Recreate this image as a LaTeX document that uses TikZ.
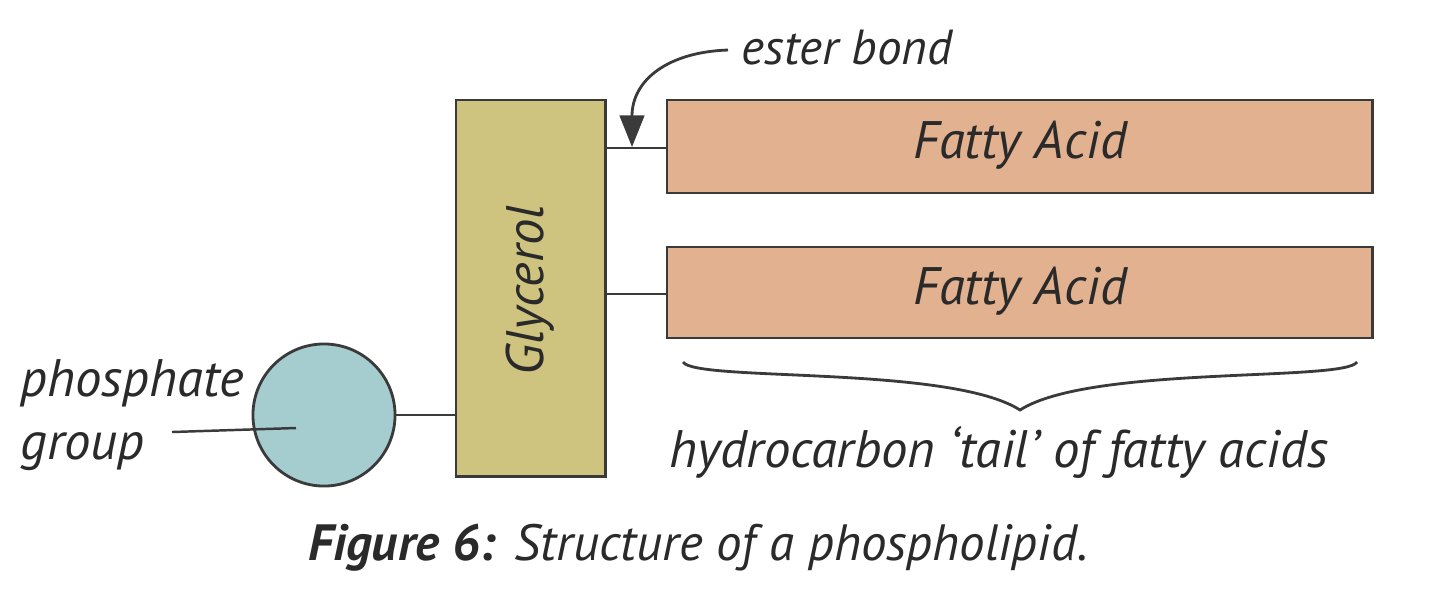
\documentclass[tikz,border=0pt]{standalone}
\usepackage{fontspec}
\setmainfont{PT Sans}
\usetikzlibrary{arrows.meta}
\definecolor{glyc}{HTML}{CEC47F}
\definecolor{fatty}{HTML}{E2B18F}
\definecolor{phos}{HTML}{A5CDD0}
\definecolor{edge}{HTML}{3A3A3A}
\definecolor{txt}{HTML}{2A2A2A}
\tikzset{
  box/.style={draw=edge, line width=0.8pt, inner sep=0pt, outer sep=0pt},
  lbl/.style={text=txt, font=\itshape\fontsize{15}{18}\selectfont, inner sep=0pt},
  bond/.style={draw=edge, line width=0.7pt},
}
\begin{document}
\begin{tikzpicture}[x=0.01cm, y=-0.01cm]
\useasboundingbox (0,0) rectangle (1440,599);
% glycerol
\node[box, fill=glyc, minimum width=1.49cm, minimum height=3.76cm, anchor=north west] (gly) at (456,100) {};
\node[lbl, rotate=90] (glyt) at (530,290) {Glycerol};
% fatty acids
\node[box, fill=fatty, minimum width=7.05cm, minimum height=0.93cm, anchor=north west] (fa1) at (667,100) {};
\node[lbl] (fa1t) at (1020,145) {Fatty Acid};
\node[box, fill=fatty, minimum width=7.05cm, minimum height=0.91cm, anchor=north west] (fa2) at (667,247) {};
\node[lbl] (fa2t) at (1020,291) {Fatty Acid};
% phosphate
\node[box, circle, fill=phos, minimum size=1.42cm] (ph) at (324,415) {};
% bonds
\draw[bond] (gly.east |- 0,148) -- (fa1.west |- 0,148);
\draw[bond] (gly.east |- 0,294) -- (fa2.west |- 0,294);
\draw[bond] (ph.east) -- (gly.west |- ph.east);
% labels
\node[lbl, align=left, anchor=west] (phl) at (20,415) {phosphate\\group};
\coordinate (phs) at (172,432);
\coordinate (phe) at (296,428);
\draw[bond] (phs) -- (phe);
\node[lbl, font=\itshape\fontsize{14}{17}\selectfont, anchor=west] (est) at (741,48) {ester bond};
\coordinate (arrtip) at (632,147);
\draw[edge, line width=0.8pt, -{Triangle[length=9pt,width=7pt]}] (est.west) ++(-13,2) .. controls (668,52) and (632,80) .. (arrtip);
% brace
\coordinate (bl) at (683,362);
\coordinate (bm) at (1020,410);
\coordinate (br) at (1357,362);
\draw[edge, line width=0.8pt] (bl) .. controls (695,382) and (950,365) .. (bm) .. controls (1090,365) and (1345,382) .. (br);
\node[lbl] (tail) at (999,452) {hydrocarbon ‘tail’ of fatty acids};
% caption
\node[text=txt, font=\fontsize{14.5}{17}\selectfont, inner sep=0pt] (cap) at (698,548) {\textbf{\textit{Figure 6:}} \textit{Structure of a phospholipid.}};
\end{tikzpicture}
\end{document}
